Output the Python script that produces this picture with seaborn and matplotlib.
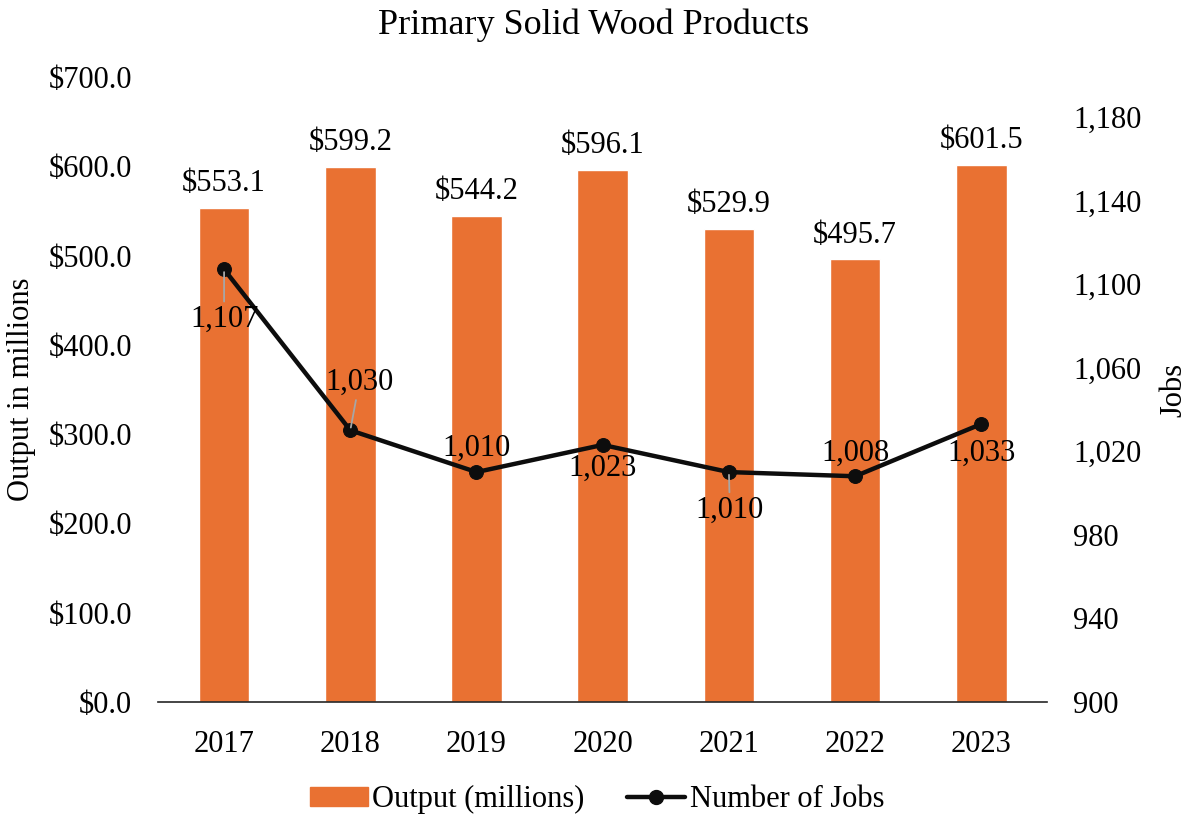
import numpy as np
import pandas as pd
import matplotlib
matplotlib.use("Agg")
import matplotlib.pyplot as plt
import seaborn as sns
from matplotlib.lines import Line2D
from matplotlib.patches import Patch

# ----------------------------
# Datos
# ----------------------------
years = ["2017", "2018", "2019", "2020", "2021", "2022", "2023"]
output_millions = [553.1, 599.2, 544.2, 596.1, 529.9, 495.7, 601.5]
jobs = [1107, 1030, 1010, 1023, 1010, 1008, 1033]

left_ticks = [0, 100, 200, 300, 400, 500, 600, 700]
right_ticks = [900, 940, 980, 1020, 1060, 1100, 1140, 1180]

# posiciones de las etiquetas de empleo (pixeles) y lineas guia
job_label_offsets = [(0, -50), (9, 48), (0, 24), (0, -23), (1, -38), (0, 23), (0, -29)]
job_label_leader = [True, True, False, False, True, False, False]

orange = "#E97132"
dark = "#0D0D0D"

df = pd.DataFrame({"Año": years, "Output": output_millions, "Jobs": jobs})
df["pos"] = np.arange(len(df))

sns.set_style("white")
plt.rcParams["font.family"] = ["Liberation Serif", "DejaVu Serif"]
for k in ["text.color", "axes.labelcolor", "xtick.color", "ytick.color"]:
    plt.rcParams[k] = "black"
fs = 22

fig = plt.figure(figsize=(11.87, 8.16), dpi=100)
ax = fig.add_axes([0.1335, 0.1397, 0.7485, 0.7659])

sns.barplot(data=df, x="Año", y="Output", color=orange, width=0.4,
            saturation=1, ax=ax, zorder=2)
ax.set_ylim(0, 700)
ax.set_yticks(left_ticks)
ax.set_yticklabels([f"${v:.1f}" for v in left_ticks])
ax.bar_label(ax.containers[0], labels=[f"${v:.1f}" for v in output_millions],
             padding=7, fontsize=fs)
ax.set_xlabel("")
ax.set_ylabel("Output in millions", fontsize=fs)
ax.yaxis.set_label_coords(-0.138, 0.5)
ax.tick_params(axis="both", length=0, labelsize=fs)
ax.tick_params(axis="y", pad=19)
ax.tick_params(axis="x", pad=20)
for s in ["top", "right", "left"]:
    ax.spines[s].set_visible(False)
ax.spines["bottom"].set_color("#262626")
ax.spines["bottom"].set_linewidth(1.2)

ax2 = ax.twinx()
sns.lineplot(data=df, x="pos", y="Jobs", color=dark, linewidth=3.2,
             marker="o", markersize=10, markeredgecolor=dark, ax=ax2, zorder=5)
ax2.set_ylim(900, 1199)
ax2.set_yticks(right_ticks)
ax2.set_yticklabels([f"{v:,}" for v in right_ticks])
ax2.set_xlim(ax.get_xlim())
ax2.set_ylabel("Jobs", fontsize=fs, rotation=90)
ax2.yaxis.set_label_coords(1.127, 0.5)
ax2.tick_params(axis="y", length=0, labelsize=fs, pad=19)
for s in ["top", "right", "left", "bottom"]:
    ax2.spines[s].set_visible(False)

for i, v in enumerate(jobs):
    arrow = dict(arrowstyle="-", color="#A6A6A6", lw=1.3, shrinkA=0, shrinkB=2) if job_label_leader[i] else None
    ax2.annotate(f"{v:,}", xy=(i, v), xytext=job_label_offsets[i],
                 textcoords="offset pixels", ha="center", va="center",
                 fontsize=fs, color="black", arrowprops=arrow, zorder=6)

fig.suptitle("Primary Solid Wood Products", fontsize=26, y=0.99)

handles = [Patch(facecolor=orange, edgecolor=orange, label="Output (millions)"),
           Line2D([0], [0], color=dark, lw=3.2, marker="o", markersize=10,
                  label="Number of Jobs")]
fig.legend(handles=handles, loc="center", bbox_to_anchor=(0.503, 0.02),
           ncol=2, frameon=False, fontsize=fs, handlelength=1.9,
           handleheight=0.55, handletextpad=0.15, columnspacing=1.4)

fig.savefig("out.png", dpi=100)
